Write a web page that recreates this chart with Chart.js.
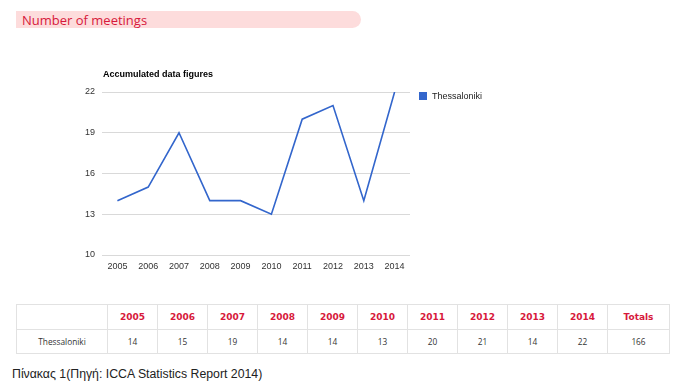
<!DOCTYPE html>
<html lang="en">
  <head>
    <meta charset="UTF-8" />
    <title>Number of meetings</title>
    <script src="https://cdn.jsdelivr.net/npm/chart.js"></script>
    <style>
      body { margin: 0; background: #fff; width: 684px; height: 384px; position: relative; overflow: hidden; }
      .bar {
        position: absolute; left: 16px; top: 11px; width: 345px; height: 17px;
        background: #fddcdc; border-radius: 0 9px 9px 0;
        font-family: "Open Sans", sans-serif; font-size: 13px; line-height: 18px;
        color: #d7193b; padding-left: 6px; box-sizing: border-box;
      }
      .chart-box { position: absolute; left: 60px; top: 62px; width: 480px; height: 220px; }
      table {
        position: absolute; left: 16px; top: 304px; border-collapse: collapse;
        table-layout: fixed;
      }
      td, th { border: 1px solid #e2e2e2; text-align: center; padding: 0; }
      th { height: 24px; font-family: "DejaVu Sans", sans-serif; font-size: 9px; font-weight: bold; color: #d7193b; }
      td { height: 23px; font-family: "Open Sans", sans-serif; font-size: 8.3px; color: #333; }
      .caption {
        position: absolute; left: 12px; top: 367px;
        font-family: "Liberation Sans", Arial, sans-serif; font-size: 12.3px; color: #222;
      }
    </style>
  </head>
  <body>
    <div class="bar">Number of meetings</div>
    <div class="chart-box"><canvas id="meetingsChart"></canvas></div>
    <table id="dataTable"></table>
    <div class="caption">Πίνακας 1(Πηγή: ICCA Statistics Report 2014)</div>

    <script>
      // Dados
      const years = ["2005", "2006", "2007", "2008", "2009", "2010", "2011", "2012", "2013", "2014"];
      const seriesName = "Thessaloniki";
      const meetings = [14, 15, 19, 14, 14, 13, 20, 21, 14, 22];
      const totalLabel = "Totals";
      const yTicks = [10, 13, 16, 19, 22];
      const chartTitle = "Accumulated data figures";

      // Tabela
      function buildTable() {
        const table = document.getElementById("dataTable");
        const widths = [91].concat(years.map(() => 50), [62]);
        let html = "<colgroup>" + widths.map((w) => `<col style="width:${w}px">`).join("") + "</colgroup>";
        html += "<tr><th></th>" + years.map((y) => `<th>${y}</th>`).join("") + `<th>${totalLabel}</th></tr>`;
        const total = meetings.reduce((a, b) => a + b, 0);
        html += `<tr><td>${seriesName}</td>` + meetings.map((v) => `<td>${v}</td>`).join("") + `<td>${total}</td></tr>`;
        table.innerHTML = html;
      }

      // Titulo e legenda desenhados no canvas
      const titleLegend = {
        id: "titleLegend",
        afterDraw(chart) {
          const ctx = chart.ctx;
          const area = chart.chartArea;
          ctx.save();
          ctx.fillStyle = "#000";
          ctx.font = "bold 9px 'Liberation Sans', Arial, sans-serif";
          ctx.textBaseline = "alphabetic";
          ctx.fillText(chartTitle, area.left + 1, 15);
          const ds = chart.data.datasets[0];
          ctx.fillStyle = ds.borderColor;
          ctx.fillRect(area.right + 9, area.top, 8, 8);
          ctx.fillStyle = "#222";
          ctx.font = "9px 'Liberation Sans', Arial, sans-serif";
          ctx.textBaseline = "middle";
          ctx.fillText(ds.label, area.right + 22, area.top + 4.5);
          ctx.restore();
        },
      };

      function showChart() {
        const ctx = document.getElementById("meetingsChart").getContext("2d");
        new Chart(ctx, {
          type: "line",
          data: {
            labels: years,
            datasets: [
              {
                label: seriesName,
                data: meetings,
                borderColor: "#3366cc",
                backgroundColor: "#3366cc",
                borderWidth: 1.6,
                pointRadius: 0,
                tension: 0,
                fill: false,
              },
            ],
          },
          options: {
            responsive: true,
            maintainAspectRatio: false,
            animation: false,
            layout: { padding: { top: 30, right: 130, left: 0, bottom: 0 } },
            plugins: { legend: { display: false }, tooltip: { enabled: false }, title: { display: false } },
            scales: {
              x: {
                offset: true,
                grid: { display: false, drawTicks: false },
                border: { display: false },
                ticks: { color: "#333", font: { family: "'Liberation Sans', Arial, sans-serif", size: 9 }, padding: 6, maxRotation: 0, autoSkip: false },
                afterFit(scale) { scale.height = 27; },
              },
              y: {
                min: 10,
                max: 22,
                afterBuildTicks(scale) { scale.ticks = yTicks.map((v) => ({ value: v })); },
                grid: { color: "#d9d9d9", drawTicks: false },
                border: { display: false },
                ticks: { color: "#333", font: { family: "'Liberation Sans', Arial, sans-serif", size: 9 }, padding: 7 },
                afterFit(scale) { scale.width = 42; },
              },
            },
          },
          plugins: [titleLegend],
        });
      }

      document.addEventListener("DOMContentLoaded", () => {
        buildTable();
        showChart();
      });
    </script>
  </body>
</html>
